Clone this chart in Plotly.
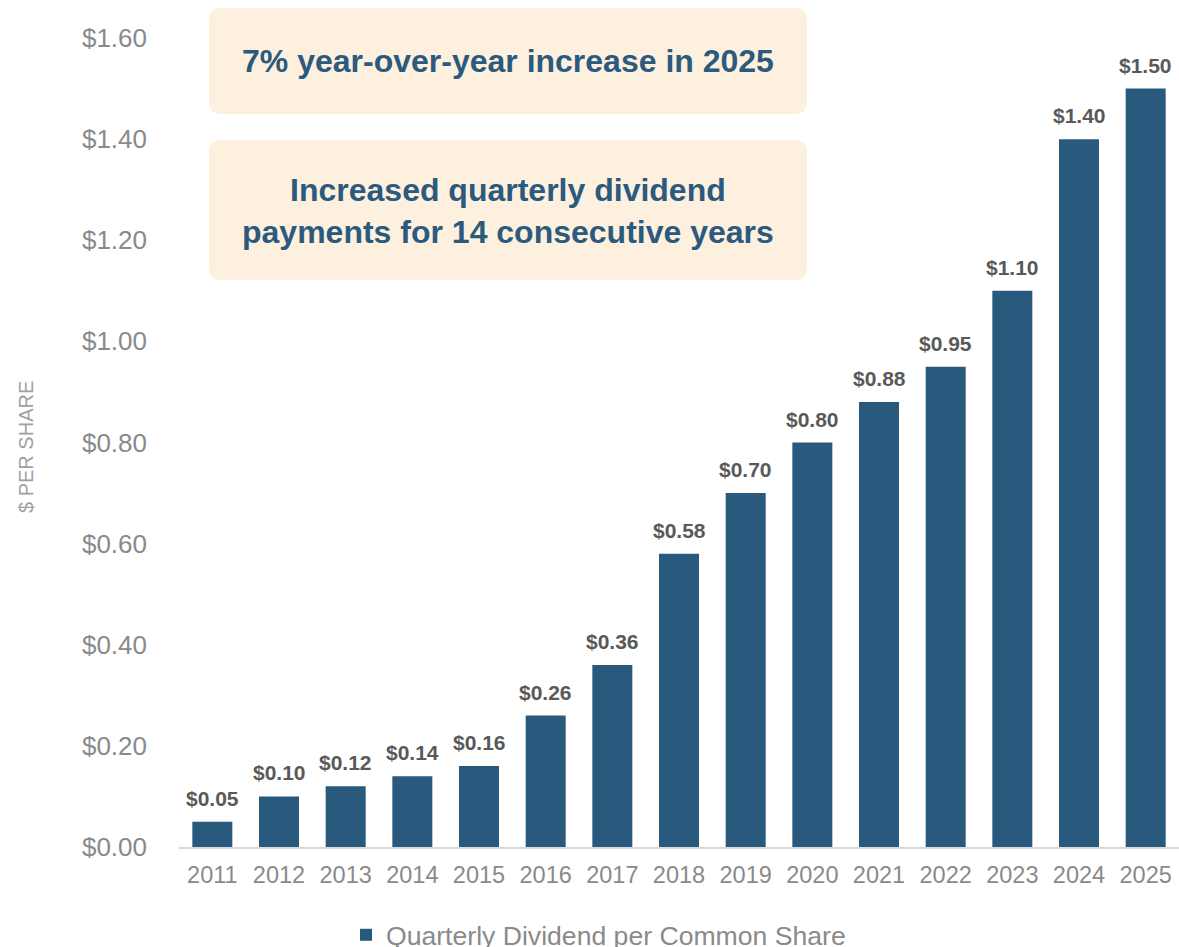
import plotly.graph_objects as go

years = ["2011", "2012", "2013", "2014", "2015", "2016", "2017", "2018",
         "2019", "2020", "2021", "2022", "2023", "2024", "2025"]
dividends = [0.05, 0.10, 0.12, 0.14, 0.16, 0.26, 0.36, 0.58,
             0.70, 0.80, 0.88, 0.95, 1.10, 1.40, 1.50]
tick_vals = [0.0, 0.2, 0.4, 0.6, 0.8, 1.0, 1.2, 1.4, 1.6]
tick_text = ["$0.00", "$0.20", "$0.40", "$0.60", "$0.80", "$1.00", "$1.20", "$1.40", "$1.60"]
series_name = "Quarterly Dividend per Common Share"
callout_1 = "7% year-over-year increase in 2025"
callout_2 = "Increased quarterly dividend<br>payments for 14 consecutive years"
y_title = "$ PER SHARE"

W, H = 1179, 947
ML, MR, MT, MB = 179, 0, 38, 100
PW, PH = W - ML - MR, H - MT - MB

FONT = "Liberation Sans, Arial, sans-serif"
BAR = "#295a7d"
TXT_BLUE = "#2b5a7e"
BOX = "#fdf0df"
GRAY = "#8a8a8a"


def px(x):
    return (x - ML) / PW


def py(y):
    return (H - MB - y) / PH


def rounded_rect(x0, y0, x1, y1, r):
    X0, X1 = px(x0), px(x1)
    Y0, Y1 = py(y0), py(y1)
    rx, ry = r / PW, r / PH
    return (f"M {X0+rx},{Y0} L {X1-rx},{Y0} Q {X1},{Y0} {X1},{Y0-ry} "
            f"L {X1},{Y1+ry} Q {X1},{Y1} {X1-rx},{Y1} "
            f"L {X0+rx},{Y1} Q {X0},{Y1} {X0},{Y1+ry} "
            f"L {X0},{Y0-ry} Q {X0},{Y0} {X0+rx},{Y0} Z")


fig = go.Figure()
fig.add_trace(go.Bar(
    x=years, y=dividends, name=series_name,
    marker=dict(color=BAR, line=dict(width=0)),
    showlegend=True,
))

annotations = []
for i, v in enumerate(dividends):
    annotations.append(dict(
        x=i, y=v, xref="x", yref="y", text=f"<b>${v:.2f}</b>",
        showarrow=False, yanchor="bottom", yshift=10,
        font=dict(family=FONT, size=21, color="#595959"),
    ))

annotations.append(dict(
    x=px(508), y=py(61), xref="paper", yref="paper",
    text=f"<b>{callout_1}</b>", showarrow=False,
    xanchor="center", yanchor="middle",
    font=dict(family=FONT, size=32, color=TXT_BLUE),
))
annotations.append(dict(
    x=px(508), y=py(211), xref="paper", yref="paper",
    text=f"<b>{callout_2}</b>", showarrow=False,
    xanchor="center", yanchor="middle",
    font=dict(family=FONT, size=32, color=TXT_BLUE),
))
annotations.append(dict(
    x=px(26), y=py(447), xref="paper", yref="paper",
    text=y_title, showarrow=False, textangle=-90,
    xanchor="center", yanchor="middle",
    font=dict(family=FONT, size=20, color="#a0a0a0"),
))

shapes = [
    dict(type="path", xref="paper", yref="paper", layer="below",
         path=rounded_rect(209, 8, 807, 114, 12),
         fillcolor=BOX, line=dict(width=0)),
    dict(type="path", xref="paper", yref="paper", layer="below",
         path=rounded_rect(209, 140, 807, 280, 12),
         fillcolor=BOX, line=dict(width=0)),
]

fig.update_layout(
    width=W, height=H,
    margin=dict(l=ML, r=MR, t=MT, b=MB, autoexpand=False),
    paper_bgcolor="white", plot_bgcolor="white",
    bargap=0.4,
    font=dict(family=FONT, color=GRAY),
    annotations=annotations,
    shapes=shapes,
    legend=dict(
        orientation="h", xref="container", yref="container",
        x=346 / W, xanchor="left", y=12 / H, yanchor="middle",
        font=dict(family=FONT, size=26.6, color=GRAY),
        bgcolor="rgba(0,0,0,0)",
    ),
    xaxis=dict(
        type="category", showgrid=False, showline=True,
        linecolor="#d9d9d9", linewidth=2, ticks="",
        tickfont=dict(family=FONT, size=23.5, color=GRAY),
        ticklabelstandoff=6,
    ),
    yaxis=dict(
        range=[0, 1.6], showgrid=False, zeroline=False, showline=False,
        tickvals=tick_vals, ticktext=tick_text, ticks="",
        tickfont=dict(family=FONT, size=26, color=GRAY),
        ticklabelstandoff=31,
    ),
)

fig.write_html("out.html", config={"displayModeBar": False},
               post_script="document.body.style.margin='0px';")
